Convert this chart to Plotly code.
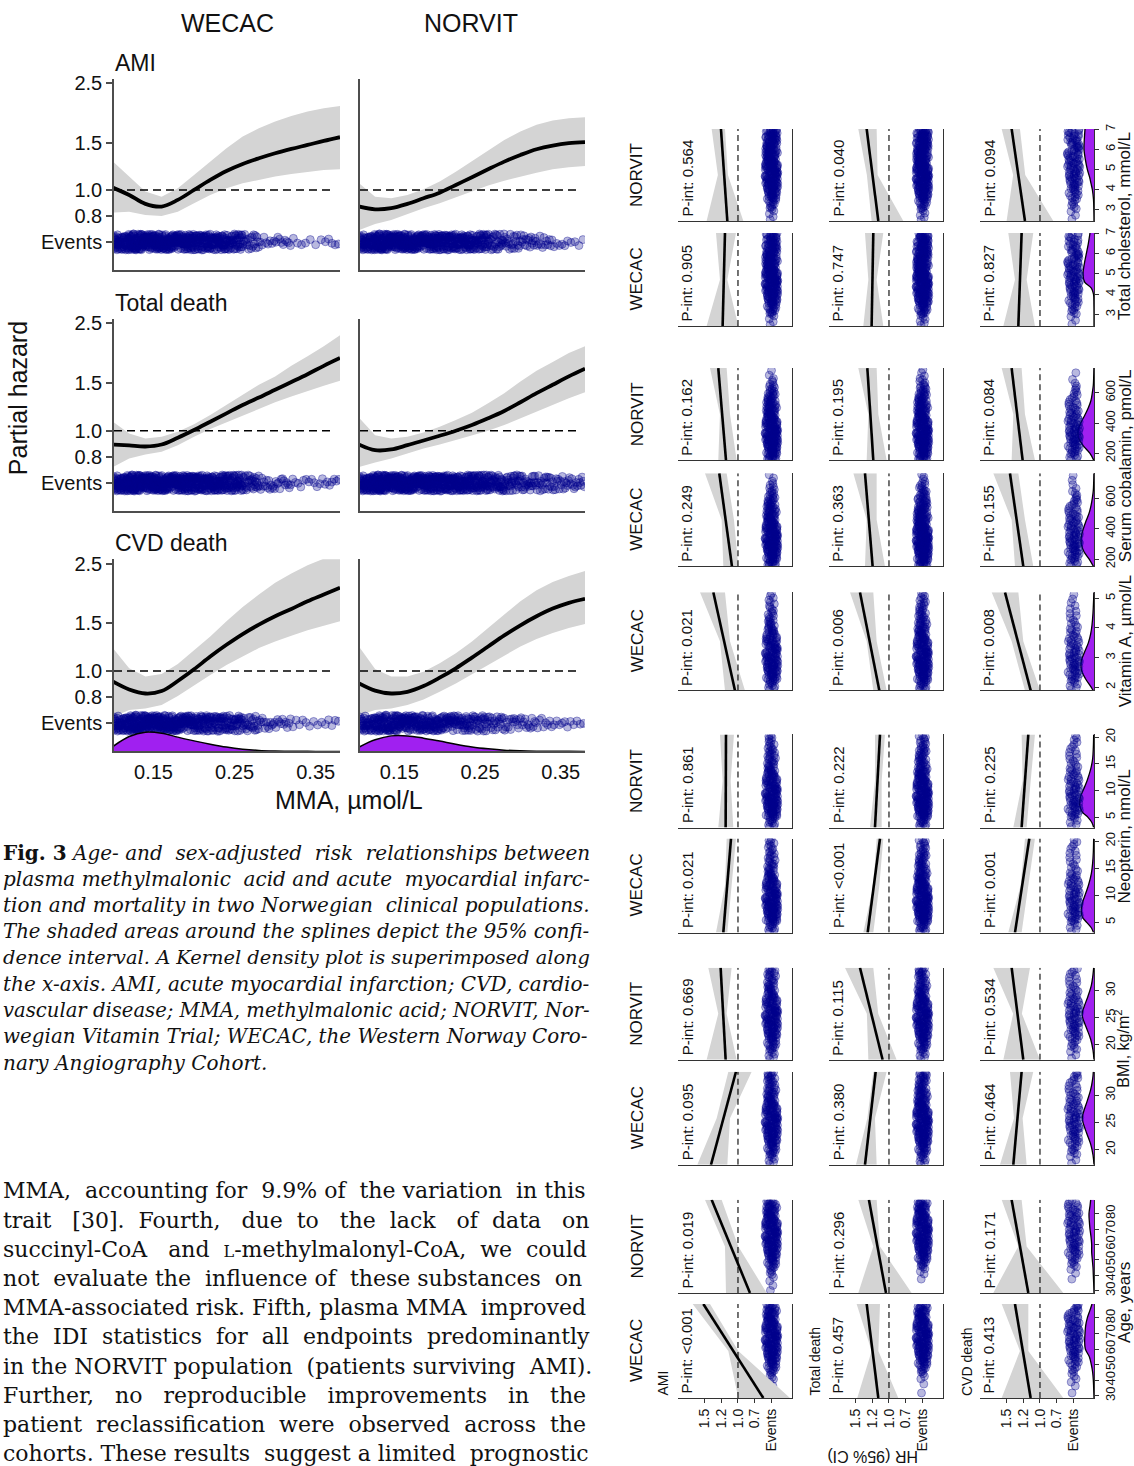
import math
import plotly.graph_objects as go

# ============================ DATA ============================
# ---- Left figure: spline HR vs MMA (umol/L) ----
mma_grid = [0.10, 0.12, 0.14, 0.16, 0.18, 0.20, 0.22, 0.24, 0.26, 0.28, 0.30, 0.32, 0.34, 0.36, 0.38]
mma_ticks = [0.15, 0.25, 0.35]

ami_wecac_hr = [1.020, 0.958, 0.887, 0.867, 0.918, 1.000, 1.090, 1.177, 1.250, 1.312, 1.370, 1.422, 1.471, 1.523, 1.572]
ami_wecac_lo = [0.823, 0.830, 0.807, 0.800, 0.830, 0.892, 0.958, 1.014, 1.059, 1.090, 1.121, 1.147, 1.170, 1.187, 1.194]
ami_wecac_hi = [1.275, 1.121, 0.986, 0.944, 1.014, 1.137, 1.275, 1.430, 1.581, 1.697, 1.798, 1.887, 1.959, 2.016, 2.056]

ami_norvit_hr = [0.867, 0.847, 0.855, 0.887, 0.931, 0.977, 1.044, 1.115, 1.194, 1.275, 1.350, 1.418, 1.463, 1.493, 1.506]
ami_norvit_lo = [0.709, 0.747, 0.773, 0.811, 0.855, 0.892, 0.939, 0.986, 1.038, 1.083, 1.121, 1.160, 1.194, 1.215, 1.229]
ami_norvit_hi = [1.059, 0.944, 0.931, 0.958, 1.006, 1.074, 1.170, 1.283, 1.409, 1.536, 1.650, 1.748, 1.813, 1.850, 1.866]

td_wecac_hr = [0.889, 0.882, 0.874, 0.889, 0.942, 1.006, 1.080, 1.160, 1.246, 1.327, 1.418, 1.515, 1.620, 1.740, 1.860]
td_wecac_lo = [0.734, 0.789, 0.816, 0.835, 0.884, 0.950, 1.014, 1.080, 1.144, 1.204, 1.275, 1.339, 1.405, 1.467, 1.532]
td_wecac_hi = [1.080, 0.977, 0.936, 0.950, 0.991, 1.056, 1.144, 1.246, 1.358, 1.480, 1.590, 1.742, 1.888, 2.056, 2.260]

td_norvit_hr = [0.889, 0.847, 0.852, 0.884, 0.920, 0.958, 1.000, 1.050, 1.112, 1.184, 1.275, 1.378, 1.480, 1.590, 1.697]
td_norvit_lo = [0.734, 0.762, 0.789, 0.823, 0.859, 0.889, 0.923, 0.958, 1.000, 1.050, 1.112, 1.184, 1.246, 1.320, 1.390]
td_norvit_hi = [1.118, 0.963, 0.936, 0.950, 0.986, 1.035, 1.096, 1.167, 1.264, 1.378, 1.523, 1.669, 1.798, 1.942, 2.056]

cvd_wecac_hr = [0.913, 0.854, 0.825, 0.842, 0.918, 1.014, 1.131, 1.250, 1.370, 1.484, 1.594, 1.697, 1.813, 1.920, 2.033]
cvd_wecac_lo = [0.676, 0.716, 0.726, 0.747, 0.807, 0.882, 0.966, 1.053, 1.131, 1.215, 1.286, 1.350, 1.414, 1.471, 1.527]
cvd_wecac_hi = [1.215, 1.023, 0.953, 0.975, 1.062, 1.191, 1.343, 1.527, 1.727, 1.920, 2.123, 2.299, 2.463, 2.607, 2.707]

cvd_norvit_hr = [0.899, 0.845, 0.825, 0.837, 0.879, 0.944, 1.023, 1.121, 1.232, 1.354, 1.476, 1.594, 1.702, 1.788, 1.850]
cvd_norvit_lo = [0.685, 0.716, 0.726, 0.747, 0.784, 0.837, 0.899, 0.975, 1.053, 1.137, 1.232, 1.312, 1.382, 1.442, 1.493]
cvd_norvit_hi = [1.232, 1.017, 0.953, 0.953, 0.994, 1.068, 1.164, 1.286, 1.442, 1.617, 1.813, 1.992, 2.135, 2.248, 2.345]

# kernel density of MMA (CVD death row)
cvd_wecac_density = [2.4, 7.2, 9.3, 8.8, 6.9, 5.1, 3.5, 2.1, 1.1, 0.5, 0.24, 0.13, 0.06, 0.03, 0.02]
cvd_norvit_density = [2.1, 5.6, 7.5, 7.5, 6.4, 5.0, 3.5, 2.2, 1.3, 0.64, 0.32, 0.16, 0.08, 0.05, 0.03]

# events: counts of events per MMA bin
mma_bins = [0.10, 0.12, 0.14, 0.16, 0.18, 0.20, 0.22, 0.24, 0.26, 0.28, 0.30, 0.32, 0.34, 0.36, 0.38]
ami_wecac_events = [55, 70, 70, 65, 60, 55, 50, 42, 20, 8, 9, 4, 3, 5]
ami_norvit_events = [55, 70, 70, 65, 60, 55, 50, 44, 28, 20, 16, 12, 6, 4]
td_wecac_events = [60, 75, 75, 70, 65, 60, 55, 48, 28, 14, 12, 6, 6, 7]
td_norvit_events = [60, 75, 75, 70, 65, 60, 55, 50, 40, 30, 24, 20, 16, 14]
cvd_wecac_events = [48, 62, 62, 58, 52, 46, 40, 34, 22, 12, 10, 5, 4, 5]
cvd_norvit_events = [40, 50, 50, 46, 44, 38, 32, 27, 19, 14, 12, 8, 6, 5]

hr_tickvals = [0.64, 0.8, 1.0, 1.5, 2.5]
hr_ticktext = ["Events", "0.8", "1.0", "1.5", "2.5"]

# ---- Right figure: interaction panels (HR at low / mid / high covariate) ----
endpoints = ["AMI", "Total death", "CVD death"]

chol_pts = [2.43, 4.72, 7.02]
cob_pts = [155, 458, 762]
vita_pts = [1.9, 3.55, 5.2]
neo_pts = [3.1, 11.8, 20.5]
bmi_pts = [17.2, 25.75, 34.3]
age_pts = [28.5, 58.75, 89.0]

chol_norvit_line = [[1.159, 1.254], [1.159, 1.333], [1.224, 1.423]]
chol_norvit_lo = [[0.920, 1.15, 1.194], [0.786, 1.17, 1.184], [0.801, 1.22, 1.299]]
chol_norvit_hi = [[1.468, 1.30, 1.393], [1.259, 1.33, 1.458], [1.498, 1.40, 1.572]]
chol_wecac_line = [[1.229, 1.194], [1.259, 1.234], [1.323, 1.274]]
chol_wecac_lo = [[0.995, 1.159, 1.030], [1.085, 1.184, 1.085], [1.075, 1.199, 1.100]]
chol_wecac_hi = [[1.468, 1.269, 1.328], [1.383, 1.308, 1.358], [1.547, 1.373, 1.473]]

cob_norvit_line = [[1.179, 1.294], [1.234, 1.323], [1.259, 1.423]]
cob_norvit_lo = [[1.020, 1.119, 1.169], [1.035, 1.159, 1.184], [1.075, 1.224, 1.274]]
cob_norvit_hi = [[1.294, 1.269, 1.418], [1.333, 1.308, 1.458], [1.423, 1.398, 1.572]]
cob_wecac_line = [[1.090, 1.279], [1.244, 1.358], [1.249, 1.448]]
cob_wecac_lo = [[0.995, 1.060, 1.169], [1.060, 1.184, 1.184], [1.100, 1.224, 1.323]]
cob_wecac_hi = [[1.219, 1.244, 1.493], [1.358, 1.333, 1.532], [1.373, 1.423, 1.697]]

vita_wecac_line = [[1.045, 1.368], [1.144, 1.433], [1.139, 1.522]]
vita_wecac_lo = [[0.896, 1.119, 1.194], [1.035, 1.184, 1.234], [1.000, 1.249, 1.323]]
vita_wecac_hi = [[1.194, 1.269, 1.567], [1.234, 1.333, 1.582], [1.224, 1.423, 1.721]]

neo_norvit_line = [[1.184, 1.179], [1.209, 1.134], [1.274, 1.174]]
neo_norvit_lo = [[1.070, 1.109, 1.060], [1.109, 1.109, 1.060], [1.199, 1.139, 1.075]]
neo_norvit_hi = [[1.294, 1.229, 1.269], [1.284, 1.209, 1.209], [1.398, 1.259, 1.274]]
neo_wecac_line = [[1.219, 1.104], [1.318, 1.134], [1.373, 1.159]]
neo_wecac_lo = [[1.159, 1.095, 1.030], [1.234, 1.144, 1.085], [1.274, 1.174, 1.075]]
neo_wecac_hi = [[1.328, 1.194, 1.169], [1.383, 1.234, 1.184], [1.473, 1.289, 1.224]]

bmi_norvit_line = [[1.184, 1.259], [1.095, 1.433], [1.249, 1.423]]
bmi_norvit_lo = [[1.020, 1.169, 1.095], [0.886, 1.160, 1.234], [1.000, 1.270, 1.149]]
bmi_norvit_hi = [[1.468, 1.294, 1.443], [1.308, 1.330, 1.657], [1.547, 1.400, 1.697]]
bmi_wecac_line = [[1.403, 1.030], [1.358, 1.199], [1.398, 1.274]]
bmi_wecac_lo = [[1.159, 1.119, 0.796], [1.184, 1.209, 1.035], [1.199, 1.259, 1.100]]
bmi_wecac_hi = [[1.607, 1.318, 1.144], [1.493, 1.323, 1.234], [1.597, 1.388, 1.448]]

age_norvit_line = [[0.821, 1.393], [1.045, 1.299], [1.174, 1.423]]
age_norvit_lo = [[0.572, 0.995, 1.244], [0.662, 1.134, 1.184], [0.652, 1.199, 1.274]]
age_norvit_hi = [[1.179, 1.194, 1.493], [1.458, 1.234, 1.458], [1.697, 1.323, 1.572]]
age_wecac_line = [[0.622, 1.517], [1.159, 1.333], [1.139, 1.373]]
age_wecac_lo = [[0.224, 0.995, 1.418], [0.861, 1.159, 1.134], [0.652, 1.174, 1.174]]
age_wecac_hi = [[0.995, 1.144, 1.677], [1.473, 1.259, 1.483], [1.572, 1.299, 1.572]]

p_int = [
    ["0.564", "0.040", "0.094"],
    ["0.905", "0.747", "0.827"],
    ["0.162", "0.195", "0.084"],
    ["0.249", "0.363", "0.155"],
    ["0.021", "0.006", "0.008"],
    ["0.861", "0.222", "0.225"],
    ["0.021", "&lt;0.001", "0.001"],
    ["0.669", "0.115", "0.534"],
    ["0.095", "0.380", "0.464"],
    ["0.019", "0.296", "0.171"],
    ["&lt;0.001", "0.457", "0.413"],
]

# events per covariate bin  [AMI, Total death, CVD death]
chol_bins = [2.43, 3.0, 3.5, 4.0, 4.5, 5.0, 5.5, 6.0, 6.5, 7.02]
chol_norvit_events = [[4, 10, 22, 28, 30, 30, 28, 26, 26], [5, 12, 25, 30, 32, 32, 30, 28, 28], [3, 6, 10, 14, 16, 16, 15, 14, 14]]
chol_wecac_events = [[4, 14, 25, 30, 32, 30, 28, 26, 24], [6, 16, 28, 32, 34, 32, 30, 28, 26], [3, 8, 12, 15, 17, 16, 14, 12, 11]]
cob_bins = [155, 200, 250, 300, 350, 400, 450, 500, 550, 600, 650, 700, 762]
cob_norvit_events = [[14, 20, 24, 24, 22, 20, 18, 16, 12, 8, 4, 2], [14, 20, 24, 24, 22, 20, 18, 16, 13, 9, 5, 3], [6, 10, 12, 12, 11, 10, 8, 7, 5, 4, 2, 1]]
cob_wecac_events = [[12, 20, 24, 24, 22, 20, 18, 15, 12, 8, 5, 3], [14, 22, 26, 26, 24, 22, 20, 17, 14, 10, 7, 4], [6, 10, 12, 12, 11, 10, 9, 7, 6, 4, 2, 2]]
vita_bins = [1.9, 2.2, 2.5, 2.8, 3.1, 3.4, 3.7, 4.0, 4.3, 4.6, 4.9, 5.2]
vita_wecac_events = [[8, 18, 22, 22, 20, 18, 14, 10, 7, 5, 4], [10, 20, 24, 24, 22, 20, 17, 13, 10, 8, 6], [5, 10, 12, 12, 10, 9, 7, 5, 4, 3, 2]]
neo_bins = [3.1, 5, 6.5, 8, 9.5, 11, 12.5, 14, 16, 18, 20.5]
neo_norvit_events = [[10, 20, 22, 22, 20, 18, 16, 14, 12, 10], [12, 22, 24, 24, 22, 20, 18, 16, 14, 12], [5, 10, 11, 11, 10, 9, 8, 7, 6, 6]]
neo_wecac_events = [[10, 20, 22, 22, 20, 18, 15, 13, 10, 10], [12, 22, 24, 24, 22, 20, 18, 16, 14, 12], [5, 10, 11, 11, 10, 9, 8, 6, 5, 6]]
bmi_bins = [17.2, 19, 21, 23, 25, 27, 29, 31, 33, 34.3]
bmi_norvit_events = [[6, 14, 22, 26, 26, 22, 16, 12, 8], [6, 15, 24, 28, 28, 24, 18, 13, 9], [3, 7, 12, 14, 14, 12, 8, 6, 4]]
bmi_wecac_events = [[6, 15, 24, 28, 28, 24, 18, 13, 9], [7, 16, 26, 30, 30, 26, 20, 15, 10], [3, 8, 12, 14, 14, 12, 9, 7, 5]]
age_bins = [28.5, 35, 40, 45, 50, 55, 60, 65, 70, 75, 80, 85, 89]
age_norvit_events = [[2, 2, 5, 10, 15, 18, 20, 20, 20, 18, 16, 10], [0, 1, 3, 8, 14, 18, 20, 20, 20, 18, 16, 10], [0, 1, 2, 5, 8, 10, 10, 10, 10, 9, 8, 5]]
age_wecac_events = [[1, 2, 4, 10, 15, 18, 20, 20, 20, 18, 16, 10], [1, 1, 3, 8, 14, 18, 20, 20, 20, 18, 16, 10], [1, 2, 3, 5, 8, 10, 11, 11, 11, 10, 8, 5]]

# kernel densities of covariates (CVD death column), relative units
chol_dens_v = [2.43, 3.0, 3.5, 4.0, 4.3, 4.6, 5.0, 5.5, 6.0, 6.5, 7.02]
chol_norvit_dens = [0, 0.5, 1.5, 5, 9, 13, 20, 26, 30, 29, 27]
chol_wecac_dens = [0, 0, 0.3, 1.5, 8, 28, 33, 29, 23, 17, 12]
cob_dens_v = [155, 200, 250, 300, 350, 400, 450, 500, 550, 600, 650, 700, 762]
cob_norvit_dens = [1, 12, 32, 46, 48, 40, 28, 17, 9, 5, 2, 1, 0.3]
cob_wecac_dens = [2, 14, 30, 38, 38, 32, 24, 15, 9, 5, 2, 1, 0.3]
vita_dens_v = [1.9, 2.0, 2.3, 2.6, 2.9, 3.2, 3.5, 3.8, 4.1, 4.5, 5.0, 5.2]
vita_wecac_dens = [3, 8, 26, 38, 38, 28, 17, 10, 6, 3, 1, 0.5]
neo_dens_v = [3.1, 4, 5, 6, 7, 8, 9, 10, 12, 14, 16, 18, 20.5]
neo_norvit_dens = [1, 6, 18, 35, 42, 43, 40, 33, 20, 10, 4, 2, 1]
neo_wecac_dens = [1.5, 8, 22, 35, 38, 37, 33, 27, 16, 8, 4, 2, 1]
bmi_dens_v = [17.2, 19, 21, 23, 25, 26, 27, 29, 31, 33, 34.3]
bmi_norvit_dens = [0, 3, 10, 22, 34, 35, 30, 18, 8, 3, 1]
bmi_wecac_dens = [0, 3, 10, 22, 33, 35, 31, 20, 10, 4, 2]
age_dens_v = [28.5, 35, 40, 45, 50, 55, 60, 65, 70, 75, 80, 85, 89]
age_norvit_dens = [0, 1, 2, 3, 5, 7, 7, 9, 12, 14, 15, 12, 10]
age_wecac_dens = [0, 1, 2, 4, 8, 14, 26, 28, 27, 25, 20, 12, 6]

var_ticks = {
    "chol": [3, 4, 5, 6, 7], "cob": [200, 400, 600], "vita": [2, 3, 4, 5],
    "neo": [5, 10, 15, 20], "bmi": [20, 25, 30], "age": [30, 40, 50, 60, 70, 80],
}
var_labels = {
    "chol": "Total cholesterol, mmol/L", "cob": "Serum cobalamin, pmol/L", "vita": "Vitamin A, µmol/L",
    "neo": "Neopterin, nmol/L", "bmi": "BMI, kg/m<sup>2</sup>", "age": "Age, years",
}

NB = "&nbsp;"
caption_lines = [
    "<b>Fig. 3</b> <i>Age- and " + NB + "sex-adjusted " + NB + "risk " + NB + "relationships between</i>",
    "<i>plasma methylmalonic " + NB + "acid and acute " + NB + "myocardial infarc-</i>",
    "<i>tion and mortality in two Norwegian " + NB + "clinical populations.</i>",
    "<i>The shaded areas around the splines depict the 95% confi-</i>",
    "<i>dence interval. A Kernel density plot is superimposed along</i>",
    "<i>the x-axis. AMI, acute myocardial infarction; CVD, cardio-</i>",
    "<i>vascular disease; MMA, methylmalonic acid; NORVIT, Nor-</i>",
    "<i>wegian Vitamin Trial; WECAC, the Western Norway Coro-</i>",
    "<i>nary Angiography Cohort.</i>",
]
caption_sizes = [20, 20, 20, 19.7, 19.4, 20, 19.6, 19.9, 20]
body_lines = [
    "MMA, " + NB + "accounting for " + NB + "9.9% of " + NB + "the variation " + NB + "in this",
    "trait " + NB * 2 + "[30]. " + NB + "Fourth, " + NB * 2 + "due " + NB + "to " + NB * 2 + "the " + NB + "lack " + NB * 2 + "of " + NB + "data " + NB * 2 + "on",
    "succinyl-CoA " + NB * 2 + "and " + NB + "<span style='font-size:16px'>L</span>-methylmalonyl-CoA, " + NB + "we " + NB + "could",
    "not " + NB + "evaluate the " + NB + "influence of " + NB + "these substances " + NB + "on",
    "MMA-associated risk. Fifth, plasma MMA " + NB + "improved",
    "the " + NB + "IDI " + NB + "statistics " + NB + "for " + NB + "all " + NB + "endpoints " + NB + "predominantly",
    "in the NORVIT population " + NB + "(patients surviving " + NB + "AMI).",
    "Further, " + NB * 2 + "no " + NB * 2 + "reproducible " + NB * 2 + "improvements " + NB * 2 + "in " + NB * 2 + "the",
    "patient " + NB + "reclassification " + NB + "were " + NB + "observed " + NB + "across " + NB + "the",
    "cohorts. These results " + NB + "suggest a limited " + NB + "prognostic",
]

# ============================ STYLE / LAYOUT ============================
W, H = 1134, 1466
SANS = "Liberation Sans, Arial, Helvetica, sans-serif"
SERIF = "DejaVu Serif, serif"
TXT = "#111111"
AXC = "#4d4d4d"
BAND = "rgb(212,212,212)"
PURPLE = "#A020F0"
NAVY_FILL = "rgba(0,0,139,0.28)"
NAVY_EDGE = "rgba(0,0,139,0.45)"

# the page photo is offset/compressed slightly in y; map target pixel rows accordingly
Y_OFF, Y_SCL = 7.2, 0.9923

L_COLS = [(114, 340), (360, 585)]
L_ROWS = [(79, 270), (319, 511), (559, 751)]
MMA_RANGE = [0.1013, 0.380]
HR_LO, HR_HI = 0.503, 2.593
LOG_RANGE = [math.log10(HR_LO), math.log10(HR_HI)]
EVENTS_HR = 0.64
EV_W_LEFT = 0.06
LD_MAX = 92.5
REF_X = [0.1013, 0.373]

R_COLS = [(678, 792), (829, 943), (980, 1094)]
R_ROWS = [(129, 221), (233, 326), (368, 460), (473, 566), (592, 690), (734, 827),
          (838, 932), (967, 1059), (1071, 1164), (1199, 1292), (1303, 1397)]
HR_R_RANGE = [1.895, 0.194]
hr_r_tickvals = [1.5, 1.25, 1.0, 0.75, 0.5]
hr_r_ticktext = ["1.5", "1.2", "1.0", "0.7", "Events"]
EV_POS_R = 0.5
EV_W_RIGHT = 0.19
R_DENS_MAX = 342.0
var_ranges = {"chol": [2.43, 7.02], "cob": [155, 762], "vita": [1.9, 5.2],
              "neo": [3.1, 20.5], "bmi": [17.2, 34.3], "age": [28.5, 89.0]}
var_pts = {"chol": chol_pts, "cob": cob_pts, "vita": vita_pts, "neo": neo_pts, "bmi": bmi_pts, "age": age_pts}
var_bins = {"chol": chol_bins, "cob": cob_bins, "vita": vita_bins, "neo": neo_bins, "bmi": bmi_bins, "age": age_bins}
var_dv = {"chol": chol_dens_v, "cob": cob_dens_v, "vita": vita_dens_v, "neo": neo_dens_v, "bmi": bmi_dens_v, "age": age_dens_v}
var_label_y = {"chol": 226, "cob": 466, "vita": 641, "neo": 836, "bmi": 1048, "age": 1302}

right_rows = [
    ("chol", "NORVIT", chol_norvit_line, chol_norvit_lo, chol_norvit_hi, chol_norvit_events, chol_norvit_dens),
    ("chol", "WECAC", chol_wecac_line, chol_wecac_lo, chol_wecac_hi, chol_wecac_events, chol_wecac_dens),
    ("cob", "NORVIT", cob_norvit_line, cob_norvit_lo, cob_norvit_hi, cob_norvit_events, cob_norvit_dens),
    ("cob", "WECAC", cob_wecac_line, cob_wecac_lo, cob_wecac_hi, cob_wecac_events, cob_wecac_dens),
    ("vita", "WECAC", vita_wecac_line, vita_wecac_lo, vita_wecac_hi, vita_wecac_events, vita_wecac_dens),
    ("neo", "NORVIT", neo_norvit_line, neo_norvit_lo, neo_norvit_hi, neo_norvit_events, neo_norvit_dens),
    ("neo", "WECAC", neo_wecac_line, neo_wecac_lo, neo_wecac_hi, neo_wecac_events, neo_wecac_dens),
    ("bmi", "NORVIT", bmi_norvit_line, bmi_norvit_lo, bmi_norvit_hi, bmi_norvit_events, bmi_norvit_dens),
    ("bmi", "WECAC", bmi_wecac_line, bmi_wecac_lo, bmi_wecac_hi, bmi_wecac_events, bmi_wecac_dens),
    ("age", "NORVIT", age_norvit_line, age_norvit_lo, age_norvit_hi, age_norvit_events, age_norvit_dens),
    ("age", "WECAC", age_wecac_line, age_wecac_lo, age_wecac_hi, age_wecac_events, age_wecac_dens),
]

left_panels = [
    (0, 0, ami_wecac_hr, ami_wecac_lo, ami_wecac_hi, ami_wecac_events, None),
    (0, 1, ami_norvit_hr, ami_norvit_lo, ami_norvit_hi, ami_norvit_events, None),
    (1, 0, td_wecac_hr, td_wecac_lo, td_wecac_hi, td_wecac_events, None),
    (1, 1, td_norvit_hr, td_norvit_lo, td_norvit_hi, td_norvit_events, None),
    (2, 0, cvd_wecac_hr, cvd_wecac_lo, cvd_wecac_hi, cvd_wecac_events, cvd_wecac_density),
    (2, 1, cvd_norvit_hr, cvd_norvit_lo, cvd_norvit_hi, cvd_norvit_events, cvd_norvit_density),
]

# ============================ BUILD ============================
fig = go.Figure()
lay = dict(width=W, height=H, autosize=False, margin=dict(l=0, r=0, t=0, b=0),
           paper_bgcolor="white", plot_bgcolor="white", showlegend=False,
           font=dict(family=SANS, color=TXT))
ann = []
cnt = {"x": 0, "y": 0}


def new_ax(p):
    cnt[p] += 1
    i = cnt[p]
    return (f"{p}axis" if i == 1 else f"{p}axis{i}"), (p if i == 1 else f"{p}{i}")


def cy(y):
    return (y - Y_OFF) / Y_SCL


def px_x(a, b):
    return [a / W, b / W]


def px_y(top, bot):
    return [1 - cy(bot) / H, 1 - cy(top) / H]


def expand(bins, counts):
    vals = []
    for a, b, n in zip(bins[:-1], bins[1:], counts):
        for i in range(n):
            vals.append(a + (b - a) * (i + 0.5) / n)
    return vals


def text(x, y, s, size, **kw):
    d = dict(x=x / W, y=1 - cy(y) / H, xref="paper", yref="paper", text=s, showarrow=False,
             xanchor="center", yanchor="middle",
             font=dict(size=size, family=kw.pop("family", SANS), color=TXT))
    d.update(kw)
    ann.append(d)


MARK = dict(size=8, color=NAVY_FILL, line=dict(color=NAVY_EDGE, width=0.8))

# ---------------- left figure ----------------
for r, c, hr, lo, hi, ev, dens in left_panels:
    xk, xr = new_ax("x")
    yk, yr = new_ax("y")
    bottom = r == 2
    first = c == 0
    dom_y = px_y(*L_ROWS[r])
    lay[xk] = dict(domain=px_x(*L_COLS[c]), range=MMA_RANGE, type="linear", anchor=yr,
                   showgrid=False, zeroline=False, showline=True, linecolor=AXC, linewidth=1.6,
                   ticks="outside" if bottom else "", ticklen=2, tickcolor="rgba(0,0,0,0)",
                   tickvals=mma_ticks, showticklabels=bottom, tickfont=dict(size=20, color=TXT))
    lay[yk] = dict(domain=dom_y, type="log", range=LOG_RANGE, anchor=xr,
                   showgrid=False, zeroline=False, showline=True, linecolor=AXC, linewidth=1.6,
                   ticks="outside" if first else "", ticklen=6, tickwidth=1.5, tickcolor=AXC,
                   tickvals=hr_tickvals, ticktext=hr_ticktext, showticklabels=first,
                   tickfont=dict(size=20, color=TXT))
    fig.add_trace(go.Scatter(x=mma_grid + mma_grid[::-1], y=hi + lo[::-1], fill="toself",
                             fillcolor=BAND, mode="lines", line=dict(width=0, color=BAND),
                             xaxis=xr, yaxis=yr, hoverinfo="skip"))
    fig.add_trace(go.Scatter(x=REF_X, y=[1.0, 1.0], mode="lines",
                             line=dict(color="black", width=1.6, dash="8px,5px"),
                             xaxis=xr, yaxis=yr, hoverinfo="skip"))
    fig.add_trace(go.Scatter(x=mma_grid, y=hr, mode="lines",
                             line=dict(color="black", width=3.8, shape="spline"),
                             xaxis=xr, yaxis=yr, hoverinfo="skip"))
    yek, yer = new_ax("y")
    lay[yek] = dict(domain=dom_y, type="linear", range=LOG_RANGE, overlaying=yr, anchor=xr, visible=False)
    fig.add_trace(go.Box(x=expand(mma_bins, ev), y0=math.log10(EVENTS_HR), orientation="h",
                         width=EV_W_LEFT, boxpoints="all", jitter=1, pointpos=0,
                         fillcolor="rgba(0,0,0,0)", line=dict(width=0, color="rgba(0,0,0,0)"),
                         marker=MARK, xaxis=xr, yaxis=yer, hoverinfo="skip"))
    if dens is not None:
        ydk, ydr = new_ax("y")
        lay[ydk] = dict(domain=dom_y, type="linear", range=[0, LD_MAX], overlaying=yr, anchor=xr, visible=False)
        fig.add_trace(go.Scatter(x=mma_grid, y=dens, fill="tozeroy", fillcolor=PURPLE, mode="lines",
                                 line=dict(color="black", width=1.5, shape="spline"),
                                 xaxis=xr, yaxis=ydr, hoverinfo="skip"))

text(227, 23, "WECAC", 25)
text(471, 23, "NORVIT", 25)
text(113, 63, "AMI", 23, xanchor="left")
text(113, 303, "Total death", 23, xanchor="left")
text(113, 543, "CVD death", 23, xanchor="left")
text(18, 398, "Partial hazard", 25, textangle=-90)
text(349, 799, "MMA, µmol/L", 25)

# ---------------- right figure ----------------
n_rows = len(right_rows)
for r, (var, cohort, lines, los, his, evs, dens) in enumerate(right_rows):
    pts = var_pts[var]
    top, bot = R_ROWS[r]
    dom_y = px_y(top, bot)
    for c in range(3):
        xk, xr = new_ax("x")
        yk, yr = new_ax("y")
        last = r == n_rows - 1
        lastc = c == 2
        lay[xk] = dict(domain=px_x(*R_COLS[c]), range=HR_R_RANGE, type="linear", anchor=yr,
                       showgrid=False, zeroline=False, showline=True, linecolor="#333", linewidth=1.2,
                       ticks="outside" if last else "", ticklen=4, tickcolor="#333",
                       tickvals=hr_r_tickvals, ticktext=hr_r_ticktext, tickangle=-90,
                       showticklabels=last, tickfont=dict(size=14, color=TXT))
        lay[yk] = dict(domain=dom_y, range=var_ranges[var], type="linear", anchor=xr, side="right",
                       showgrid=False, zeroline=False, showline=True, linecolor="#333", linewidth=1.2,
                       ticks="outside" if lastc else "", ticklen=4, tickcolor="#333",
                       tickvals=var_ticks[var], tickangle=-90, showticklabels=lastc,
                       tickfont=dict(size=13, color=TXT))
        fig.add_trace(go.Scatter(x=his[c] + los[c][::-1], y=pts + pts[::-1], fill="toself",
                                 fillcolor=BAND, mode="lines", line=dict(width=0, color=BAND),
                                 xaxis=xr, yaxis=yr, hoverinfo="skip"))
        fig.add_trace(go.Scatter(x=[1.0, 1.0], y=var_ranges[var], mode="lines",
                                 line=dict(color="black", width=1.1, dash="6px,4px"),
                                 xaxis=xr, yaxis=yr, hoverinfo="skip"))
        fig.add_trace(go.Scatter(x=lines[c], y=[pts[0], pts[2]], mode="lines",
                                 line=dict(color="black", width=2.6),
                                 xaxis=xr, yaxis=yr, hoverinfo="skip"))
        ev_x = xr
        if lastc:
            xdk, xdr = new_ax("x")
            lay[xdk] = dict(domain=px_x(*R_COLS[c]), range=[R_DENS_MAX, 0], type="linear",
                            overlaying=xr, anchor=yr, visible=False)
            fig.add_trace(go.Scatter(x=dens, y=var_dv[var], fill="tozerox", fillcolor=PURPLE,
                                     mode="lines", line=dict(color="black", width=1.3, shape="spline"),
                                     xaxis=xdr, yaxis=yr, hoverinfo="skip"))
            xek, ev_x = new_ax("x")
            lay[xek] = dict(domain=px_x(*R_COLS[c]), range=HR_R_RANGE, type="linear",
                            overlaying=xr, anchor=yr, visible=False)
        fig.add_trace(go.Box(y=expand(var_bins[var], evs[c]), x0=EV_POS_R, orientation="v",
                             width=EV_W_RIGHT, boxpoints="all", jitter=1, pointpos=0,
                             fillcolor="rgba(0,0,0,0)", line=dict(width=0, color="rgba(0,0,0,0)"),
                             marker=MARK, xaxis=ev_x, yaxis=yr, hoverinfo="skip"))
        text(R_COLS[c][0] + 9, bot - 2, "P-int: " + p_int[r][c], 15, textangle=-90,
             xanchor="center", yanchor="bottom")
    text(637, (top + bot) / 2, cohort, 17, textangle=-90)

for var, yc in var_label_y.items():
    if var == "bmi":
        text(1134, yc, var_labels[var], 16, textangle=-90, xanchor="right")
    else:
        text(1125, yc, var_labels[var], 17, textangle=-90)

col_label_x = [663, 815, 967]
for name, xc in zip(endpoints, col_label_x):
    text(xc, R_ROWS[-1][1], name, 14, textangle=-90, yanchor="bottom")
text(873, 1456, "HR (95% CI)", 16, textangle=180)

# ---------------- caption and body text ----------------
for i, s in enumerate(caption_lines):
    text(1, 852 + 26.3 * i, s, caption_sizes[i], family=SERIF, xanchor="left")
for i, s in enumerate(body_lines):
    text(1, 1190 + 29.2 * i, s, 22, family=SERIF, xanchor="left")

lay["annotations"] = ann
fig.update_layout(**lay)
fig.write_html("out.html", config={"displayModeBar": False},
               post_script="document.body.style.margin='0px';")
